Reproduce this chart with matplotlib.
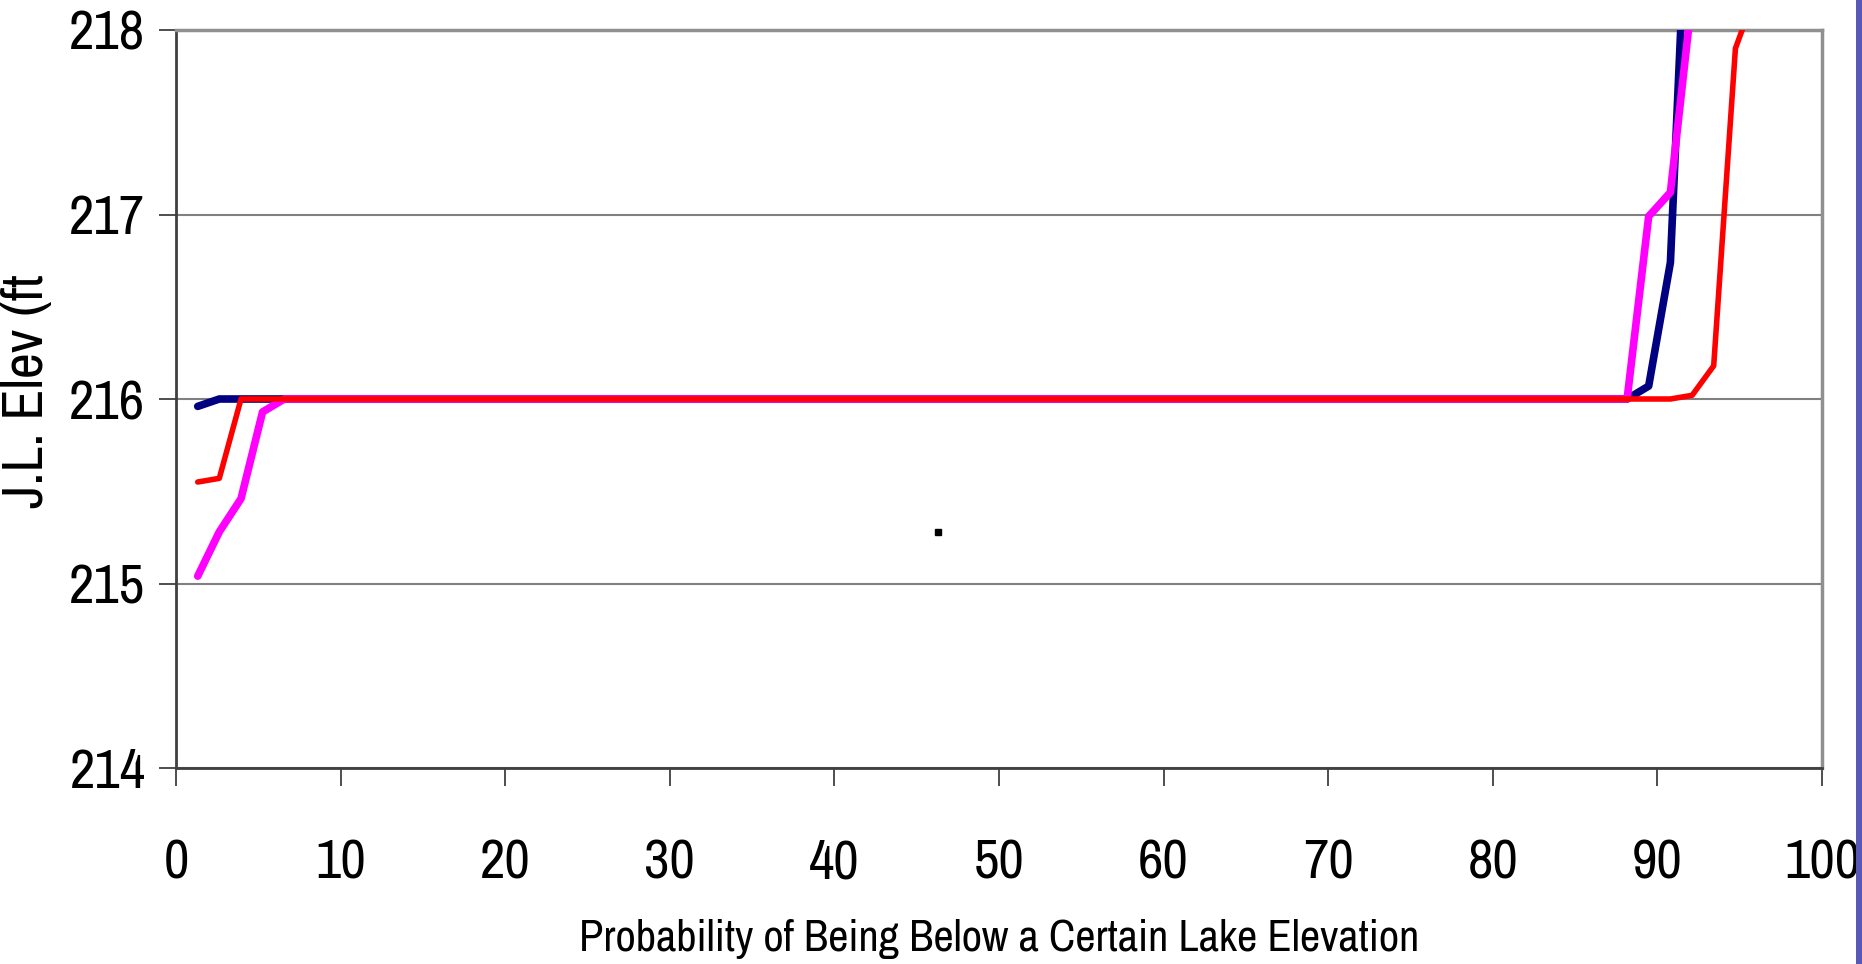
import matplotlib.pyplot as plt
from matplotlib.patches import Rectangle

# probability (%) of being below a lake elevation, J.L. elevation (ft)
x_blue = [1.32, 2.63, 88.16, 89.47, 90.79, 92.11]
y_blue = [215.96, 216.0, 216.0, 216.07, 216.74, 219.4]

x_magenta = [1.32, 2.63, 3.95, 5.26, 6.58, 88.16, 89.47, 90.79, 92.11]
y_magenta = [215.04, 215.28, 215.46, 215.93, 216.0, 216.0, 216.99, 217.12, 218.18]

x_red = [1.32, 2.63, 3.95, 90.79, 92.11, 93.42, 94.74, 96.05]
y_red = [215.55, 215.57, 216.0, 216.0, 216.02, 216.18, 217.9, 218.22]

dot_x, dot_y = 46.3, 215.28

x_ticks = [0, 10, 20, 30, 40, 50, 60, 70, 80, 90, 100]
y_ticks = [214, 215, 216, 217, 218]

plt.rcParams['font.family'] = ['Liberation Sans Narrow', 'Archivo Narrow', 'DejaVu Sans']

fig = plt.figure(figsize=(18.62, 9.64), dpi=100)
ax = fig.add_axes([176 / 1862, 1 - 768 / 964, (1822 - 176) / 1862, (768 - 30) / 964])

ax.plot(x_blue, y_blue, color='#000080', lw=5.5, solid_capstyle='round', zorder=3)
ax.plot(x_magenta, y_magenta, color='#ff00ff', lw=5.5, solid_capstyle='round', zorder=4)
ax.plot(x_red, y_red, color='#ff0000', lw=4, solid_capstyle='round', zorder=5)
ax.plot([dot_x], [dot_y], marker='s', ms=4.5, color='black', ls='none', zorder=6)

ax.set_xlim(0, 100)
ax.set_ylim(214, 218)
ax.set_xticks(x_ticks)
ax.set_yticks(y_ticks)
ax.set_xticklabels([str(t) for t in x_ticks], fontsize=40)
ax.set_yticklabels([str(t) for t in y_ticks], fontsize=40)
ax.tick_params(axis='x', length=13, width=1.3, color='#404040', pad=38)
ax.tick_params(axis='y', length=12, width=1.3, color='#404040', pad=10)
for lab in ax.get_yticklabels():
    lab.set_verticalalignment('center_baseline')

ax.grid(axis='y', color='#808080', lw=1.5)
ax.set_axisbelow(True)
for side in ['top', 'right']:
    ax.spines[side].set_color('#909090')
    ax.spines[side].set_linewidth(2.5)
for side in ['left', 'bottom']:
    ax.spines[side].set_color('#404040')
    ax.spines[side].set_linewidth(2)

ax.set_xlabel('Probability of Being Below a Certain Lake Elevation', fontsize=32, labelpad=22)
ax.set_ylabel('J.L. Elev (ft', fontsize=41)
ax.yaxis.set_label_coords(-0.0745, 0.511)

# blue strip at the right edge
fig.patches.append(Rectangle((1856 / 1862, 0), 6 / 1862, 1, transform=fig.transFigure,
                             facecolor='#5858b8', edgecolor='none'))

fig.savefig('out.png', dpi=100)
